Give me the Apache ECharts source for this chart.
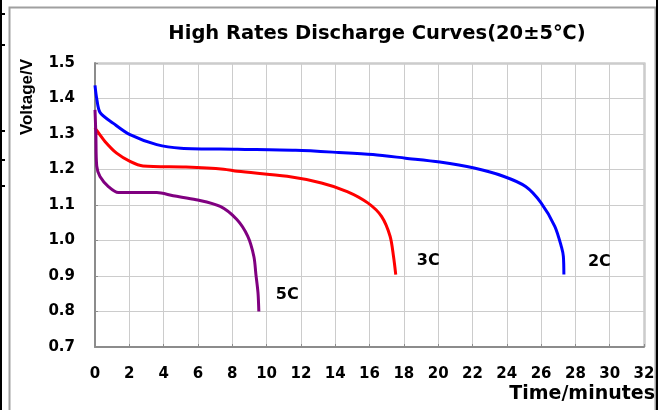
<!DOCTYPE html>
<html>
<head>
<meta charset="utf-8">
<script src="https://cdn.jsdelivr.net/npm/echarts@6/dist/echarts.min.js"></script>
<style>
  html, body { margin: 0; padding: 0; background: #fff; }
  #chart { width: 665px; height: 410px; }
</style>
</head>
<body>
<div id="chart"></div>
<script>
// discharge curves: [minutes, volts]
const curve2C = [
  [0, 1.437], [0.1, 1.40], [0.3, 1.36], [1.07, 1.33], [2.04, 1.298], [3.6, 1.27],
  [5.0, 1.26], [8.3, 1.257], [11.7, 1.254], [14.2, 1.248], [16.2, 1.242],
  [18.1, 1.232], [20.1, 1.221], [22.1, 1.204], [23.8, 1.181], [25.1, 1.152],
  [26.0, 1.106], [26.8, 1.04], [27.2, 0.98], [27.3, 0.955], [27.33, 0.904]
]
const curve3C = [
  [0, 1.318], [0.1, 1.31], [0.58, 1.279], [1.26, 1.246], [2.04, 1.223], [2.8, 1.21],
  [5.3, 1.207], [7.5, 1.201], [8.3, 1.195], [11.2, 1.181], [13.2, 1.162],
  [14.7, 1.138], [15.9, 1.106], [16.7, 1.068], [17.2, 1.012], [17.4, 0.955],
  [17.53, 0.904]
]
const curve5C = [
  [0, 1.368], [0.05, 1.30], [0.1, 1.21], [0.29, 1.18], [0.78, 1.152], [1.36, 1.135],
  [3.6, 1.135], [4.56, 1.126], [5.9, 1.115], [7.3, 1.096], [8.27, 1.059],
  [8.9, 1.012], [9.26, 0.955], [9.38, 0.904], [9.5, 0.853], [9.55, 0.80]
]
const seriesNames = ['2C', '3C', '5C']
const seriesColors = ['#0000ff', '#ff0000', '#800080']
const labelOffsets = [[16, -13], [13, -14], [9, -17]]

const chart = echarts.init(document.getElementById('chart'))
// the reference text is wide, DejaVu Sans Bold comes closest
const wide = 'DejaVu Sans, Verdana, sans-serif'
const narrow = 'Liberation Sans, Arial, sans-serif'

const option = {
  backgroundColor: '#fff',
  animation: false,
  title: {
    text: 'High Rates Discharge Curves(20±5℃)',
    left: 372,
    textAlign: 'center',
    top: 19,
    textStyle: { fontFamily: wide, fontSize: 19.5, fontWeight: 'bold', color: '#000' },
  },
  grid: { left: 95, top: 63, width: 549, height: 284, show: false },
  xAxis: {
    type: 'value',
    min: 0,
    max: 32,
    interval: 2,
    name: 'Time/minutes',
    nameLocation: 'end',
    nameGap: 11,
    nameTextStyle: {
      fontFamily: wide, fontSize: 19, fontWeight: 'bold', color: '#000',
      align: 'right', verticalAlign: 'top', padding: [38, 0, 0, 0],
    },
    axisLine: { show: true, lineStyle: { color: '#8c8c8c', width: 2 } },
    axisTick: { show: true, inside: true, length: 3, lineStyle: { color: '#8c8c8c' } },
    axisLabel: {
      fontFamily: wide, fontSize: 15, fontWeight: 'bold', color: '#000', margin: 20,
    },
    splitLine: { show: true, lineStyle: { color: '#cccccc', width: 1 } },
  },
  yAxis: {
    type: 'value',
    min: 0.7,
    max: 1.5,
    interval: 0.1,
    axisLine: { show: true, lineStyle: { color: '#8c8c8c', width: 2 } },
    axisTick: { show: true, inside: true, length: 3, lineStyle: { color: '#8c8c8c' } },
    axisLabel: {
      fontFamily: wide, fontSize: 15, fontWeight: 'bold', color: '#000', margin: 20,
      formatter: (v) => v.toFixed(1),
    },
    splitLine: { show: true, lineStyle: { color: '#cccccc', width: 1 } },
  },
  series: [curve2C, curve3C, curve5C].map((data, i) => ({
    name: seriesNames[i],
    type: 'line',
    data,
    showSymbol: false,
    smooth: 0.3,
    lineStyle: { color: seriesColors[i], width: 3 },
    itemStyle: { color: seriesColors[i] },
    endLabel: {
      show: true,
      formatter: seriesNames[i],
      offset: labelOffsets[i],
      fontFamily: wide,
      fontSize: 16,
      fontWeight: 'bold',
      color: '#000',
    },
  })),
  graphic: [
    // y axis name, rotated, left of the tick labels
    {
      type: 'text', x: 27, y: 97, rotation: Math.PI / 2, silent: true,
      style: {
        text: 'Voltage/V', font: 'bold 17px ' + narrow, fill: '#000',
        textAlign: 'center', textVerticalAlign: 'middle',
      },
    },
    // outer gray frame of the chart area
    { type: 'rect', shape: { x: 9.5, y: 7.5, width: 646, height: 410 }, style: { fill: null, stroke: '#a0a0a0', lineWidth: 2 }, silent: true },
    // gray plot border, top and right
    { type: 'polyline', shape: { points: [[95, 63.5], [644.5, 63.5], [644.5, 347]] }, style: { fill: null, stroke: '#b0b0b0', lineWidth: 2 }, silent: true },
    // black table lines at page edges
    { type: 'line', shape: { x1: 657, y1: 0, x2: 657, y2: 410 }, style: { stroke: '#000', lineWidth: 2 }, silent: true },
    { type: 'line', shape: { x1: 1, y1: 0, x2: 1, y2: 410 }, style: { stroke: '#000', lineWidth: 2 }, silent: true },
    { type: 'line', shape: { x1: 0, y1: 14, x2: 5, y2: 14 }, style: { stroke: '#000', lineWidth: 2 }, silent: true },
    { type: 'line', shape: { x1: 0, y1: 45, x2: 5, y2: 45 }, style: { stroke: '#000', lineWidth: 2 }, silent: true },
    { type: 'line', shape: { x1: 0, y1: 131, x2: 5, y2: 131 }, style: { stroke: '#000', lineWidth: 2 }, silent: true },
    { type: 'line', shape: { x1: 0, y1: 160, x2: 5, y2: 160 }, style: { stroke: '#000', lineWidth: 2 }, silent: true },
    { type: 'line', shape: { x1: 0, y1: 186, x2: 5, y2: 186 }, style: { stroke: '#000', lineWidth: 2 }, silent: true },
  ],
}
chart.setOption(option)
</script>
</body>
</html>
